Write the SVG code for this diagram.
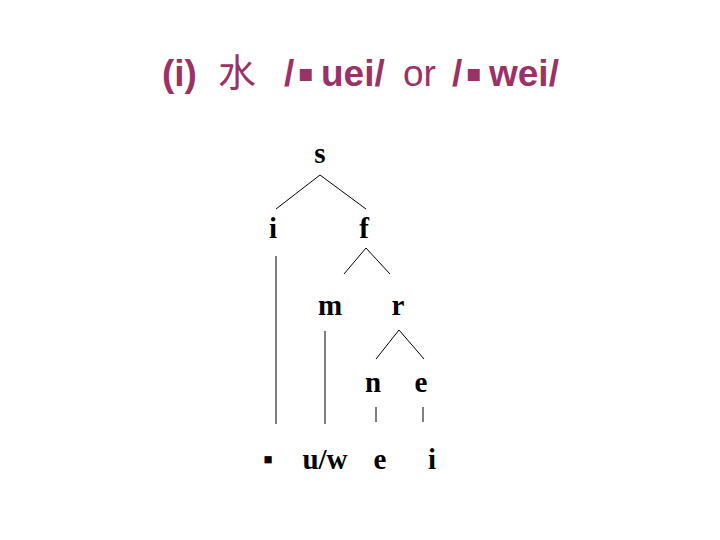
<svg xmlns="http://www.w3.org/2000/svg" width="720" height="540" viewBox="0 0 720 540">
<style>
.t{font-family:"Liberation Sans",Arial,"Noto Sans CJK SC",sans-serif;font-size:37px;fill:#993366}
.n{font-family:"Liberation Serif","Times New Roman",serif;font-size:29px;font-weight:bold;fill:#000;text-anchor:middle}
.c line{stroke:#000;stroke-width:1}
</style>
<rect width="720" height="540" fill="#fff"/>
<text id="title" class="t" y="86"><tspan x="162" font-weight="bold">(i)</tspan><tspan x="218" font-family="'Noto Sans CJK SC',sans-serif" font-size="38">水</tspan><tspan x="284" font-weight="bold">/</tspan><tspan x="297" font-weight="bold" font-size="48" y="90">▪</tspan><tspan x="321" y="86" font-weight="bold">uei/</tspan><tspan x="403">or</tspan><tspan x="452" font-weight="bold">/</tspan><tspan x="465" font-weight="bold" font-size="48" y="90">▪</tspan><tspan x="489" y="86" font-weight="bold">wei/</tspan></text>
<g id="s"><text class="n" x="320" y="163">s</text></g>
<g id="i"><text class="n" x="273" y="238">i</text></g>
<g id="f"><text class="n" x="364" y="238">f</text></g>
<g id="m"><text class="n" x="330" y="315">m</text></g>
<g id="r"><text class="n" x="398" y="315">r</text></g>
<g id="nn"><text class="n" x="373" y="392">n</text></g>
<g id="e"><text class="n" x="421" y="392">e</text></g>
<g id="seg1"><text class="n" x="268" y="469">▪</text></g>
<g id="seg2"><text class="n" x="325" y="469">u/w</text></g>
<g id="seg3"><text class="n" x="380" y="469">e</text></g>
<g id="seg4"><text class="n" x="432" y="469">i</text></g>
<g class="c" id="connectors">
<line x1="320" y1="175" x2="276" y2="209"/>
<line x1="320" y1="175" x2="366" y2="209"/>
<line x1="366" y1="248" x2="344" y2="274"/>
<line x1="366" y1="248" x2="390" y2="274"/>
<line x1="399" y1="330" x2="376" y2="359"/>
<line x1="399" y1="330" x2="424" y2="359"/>
<line x1="276" y1="256" x2="276" y2="424"/>
<line x1="325" y1="331" x2="325" y2="424"/>
<line x1="376" y1="407" x2="376" y2="422"/>
<line x1="423" y1="407" x2="423" y2="422"/>
</g>
</svg>
